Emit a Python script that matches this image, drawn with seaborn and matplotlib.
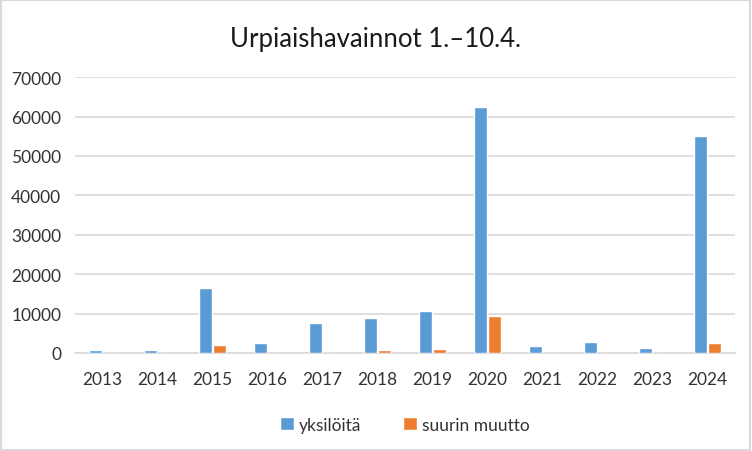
import numpy as np
import pandas as pd
import matplotlib
matplotlib.use("Agg")
import matplotlib.pyplot as plt
import seaborn as sns
from matplotlib.patches import Rectangle

vuodet = ["2013", "2014", "2015", "2016", "2017", "2018",
          "2019", "2020", "2021", "2022", "2023", "2024"]
yksiloita = [800, 800, 16400, 2600, 7500, 8900, 10600, 62400, 1700, 2800, 1200, 55000]
suurin_muutto = [0, 0, 2000, 0, 0, 700, 900, 9300, 0, 0, 0, 2500]

df = pd.DataFrame({
    "vuosi": vuodet * 2,
    "arvo": yksiloita + suurin_muutto,
    "sarja": ["yksilöitä"] * len(vuodet) + ["suurin muutto"] * len(vuodet),
})

sns.set_theme(style="white")
plt.rcParams['font.family'] = ['Lato', 'DejaVu Sans']

fig = plt.figure(figsize=(7.52, 4.52), dpi=100)
ax = fig.add_axes([0.1, 0.217, 0.877, 0.61])

sns.barplot(data=df, x="vuosi", y="arvo", hue="sarja",
            palette=["#5B9BD5", "#ED7D31"], width=0.52, gap=0.1,
            saturation=1, ax=ax, legend=True, zorder=3)

ax.set_ylim(0, 70000)
ax.set_yticks(np.arange(0, 70001, 10000))
ax.yaxis.grid(True, color="#D9D9D9", linewidth=1.2)
ax.set_axisbelow(True)
for s in ["top", "right", "left"]:
    ax.spines[s].set_visible(False)
ax.spines["bottom"].set_color("#D9D9D9")
ax.spines["bottom"].set_linewidth(1.2)
ax.spines["bottom"].set_zorder(2)
ax.set_xlabel("")
ax.set_ylabel("")
ax.tick_params(axis="both", labelsize=12.5, colors="#333333", length=0, pad=13)
ax.tick_params(axis="y", pad=10)

fig.text(0.5, 0.912, "Urpiaishavainnot 1.–10.4.", ha="center", va="center",
         fontsize=18.5, color="#1a1a1a")

ax.legend(loc="center", bbox_to_anchor=(0.5, -0.26), ncol=2, frameon=False,
          fontsize=12.5, handlelength=0.8, handleheight=0.8, columnspacing=2.4,
          handletextpad=0.3, labelcolor="#333333")

fig.patches.append(Rectangle((0.001, 0.002), 0.997, 0.995, transform=fig.transFigure,
                             fill=False, edgecolor="#D9D9D9", linewidth=1.5))

fig.savefig("out.png", dpi=100)
